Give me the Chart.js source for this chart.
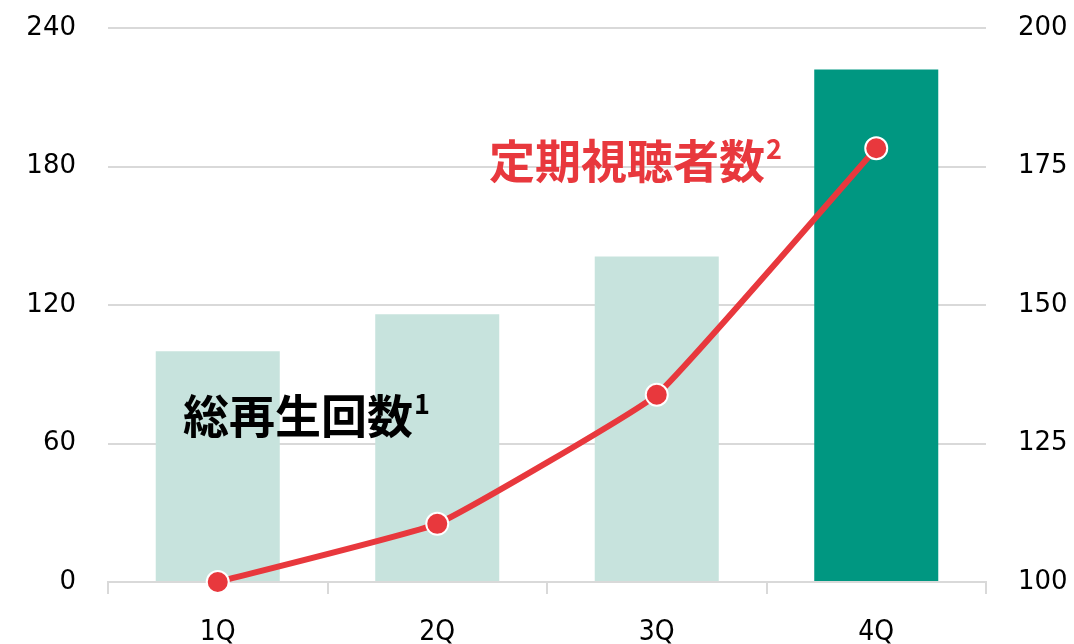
<!DOCTYPE html>
<html>
<head>
<meta charset="utf-8">
<script src="https://cdn.jsdelivr.net/npm/chart.js@4/dist/chart.umd.min.js"></script>
<style>
  html, body { margin: 0; padding: 0; background: #fff; }
  #wrap { width: 1074px; height: 644px; }
</style>
</head>
<body>
<div id="wrap"><canvas id="chart"></canvas></div>
<script>
// 四半期
const quarters = ["1Q", "2Q", "3Q", "4Q"];
// 総再生回数 (左軸)
const plays = [100, 116, 141, 222];
// 定期視聴者数 (右軸)
const viewers = [100, 110.5, 133.8, 178.3];
const barColors = ["#c7e3dd", "#c7e3dd", "#c7e3dd", "#009781"];
const lineColor = "#e8383d";

// ラベル描画
const labelPlugin = {
    id: "labels",
    afterDatasetsDraw(chart) {
        const ctx = chart.ctx;
        ctx.save();
        ctx.textBaseline = "alphabetic";
        ctx.textAlign = "left";

        ctx.fillStyle = "#000";
        ctx.font = "bold 46px 'Noto Sans CJK JP'";
        ctx.fillText("総再生回数", 183, 433);
        let w = ctx.measureText("総再生回数").width;
        ctx.font = "bold 27px 'Noto Sans CJK JP'";
        ctx.fillText("1", 183 + w + 1, 414);

        ctx.fillStyle = lineColor;
        ctx.font = "bold 46px 'Noto Sans CJK JP'";
        ctx.fillText("定期視聴者数", 489, 178);
        w = ctx.measureText("定期視聴者数").width;
        ctx.font = "bold 27px 'Noto Sans CJK JP'";
        ctx.fillText("2", 489 + w + 1, 159);
        ctx.restore();
    }
};

new Chart(document.getElementById("chart"), {
    type: "bar",
    data: {
        labels: quarters,
        datasets: [{
            type: "line",
            label: "定期視聴者数",
            data: viewers,
            yAxisID: "y1",
            borderColor: lineColor,
            borderWidth: 6,
            backgroundColor: lineColor,
            pointRadius: 11,
            pointBorderColor: "#fff",
            pointBorderWidth: 2,
            tension: 0.1,
            fill: false,
            clip: false,
            order: 0
        }, {
            label: "総再生回数",
            data: plays,
            yAxisID: "y",
            backgroundColor: barColors,
            categoryPercentage: 1,
            barPercentage: 0.565,
            order: 1
        }]
    },
    options: {
        responsive: true,
        maintainAspectRatio: false,
        animation: false,
        layout: { padding: { top: 28, right: 0, left: 0, bottom: 0 } },
        plugins: {
            legend: { display: false },
            tooltip: { enabled: false }
        },
        scales: {
            x: {
                offset: true,
                grid: {
                    offset: true,
                    drawOnChartArea: false,
                    drawTicks: true,
                    tickLength: 12,
                    color: "#d9d9d9",
                    lineWidth: 2
                },
                border: { color: "#d9d9d9", width: 2 },
                ticks: {
                    color: "#000",
                    padding: 22,
                    font: { family: "'DejaVu Sans Condensed', 'DejaVu Sans'", size: 28 }
                },
                afterFit(scale) { scale.height = 62; }
            },
            y: {
                position: "left",
                min: 0,
                max: 240,
                ticks: {
                    stepSize: 60,
                    color: "#000",
                    padding: 32,
                    font: { family: "'DejaVu Sans'", size: 26 }
                },
                grid: { color: "#d9d9d9", lineWidth: 2, drawTicks: false },
                border: { display: false },
                afterFit(scale) { scale.width = 108; scale.paddingTop = 0; }
            },
            y1: {
                position: "right",
                min: 100,
                max: 200,
                ticks: {
                    stepSize: 25,
                    color: "#000",
                    padding: 32,
                    font: { family: "'DejaVu Sans'", size: 26 }
                },
                grid: { display: false, drawTicks: false },
                border: { display: false },
                afterFit(scale) { scale.width = 88; scale.paddingTop = 0; }
            }
        }
    },
    plugins: [labelPlugin]
});
</script>
</body>
</html>
